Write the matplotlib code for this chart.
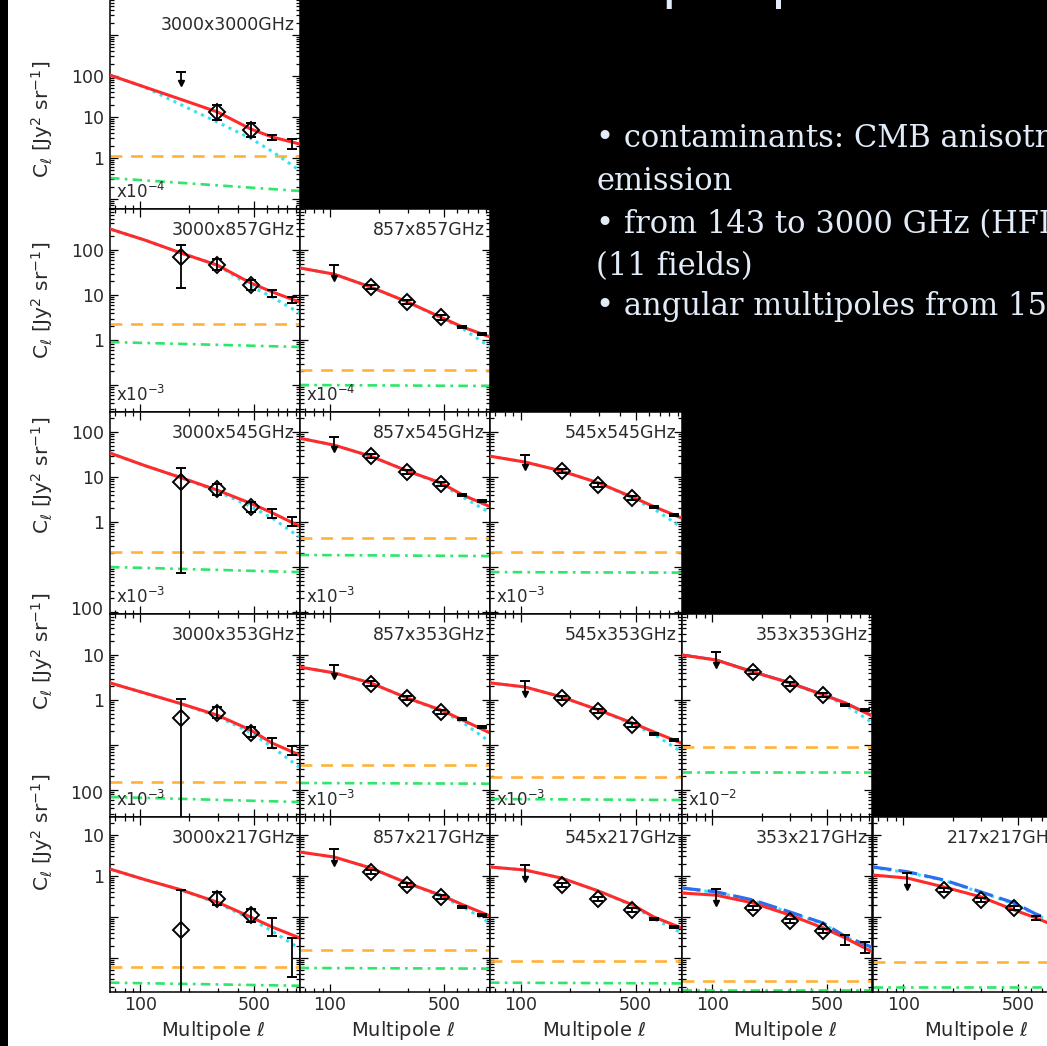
import matplotlib
matplotlib.use("Agg")
import matplotlib.pyplot as plt
import matplotlib.transforms as mtransforms
from matplotlib.patches import Rectangle
from matplotlib.ticker import FixedLocator, LogLocator, FuncFormatter, NullFormatter

# ---------------------------------------------------------------- data
# multipole bins of the measured cross-spectra
ELL_BINS = [106, 177, 297, 476, 645, 850]
# multipoles at which the model curves are tabulated
ELL_MODEL = [65, 106, 177, 297, 476, 645, 950]
ELL_CIRRUS = [65, 950]

PAIRS = ["3000x3000GHz", "3000x857GHz", "857x857GHz",
         "3000x545GHz", "857x545GHz", "545x545GHz",
         "3000x353GHz", "857x353GHz", "545x353GHz", "353x353GHz",
         "3000x217GHz", "857x217GHz", "545x217GHz", "353x217GHz", "217x217GHz"]
ROW = [0, 1, 1, 2, 2, 2, 3, 3, 3, 3, 4, 4, 4, 4, 4]
COL = [0, 0, 1, 0, 1, 2, 0, 1, 2, 3, 0, 1, 2, 3, 4]
SCALE_EXP = [-4, -3, -4, -3, -3, -3, -3, -3, -3, -2, None, None, None, None, None]

# total model (red)
TOTAL = [
    [105, 54, 27, 13.3, 5.1, 3.25, 2.2],
    [293, 167, 86, 46, 18.5, 11.7, 7.0],
    [40, 29, 15, 7.0, 3.2, 1.95, 1.17],
    [34, 18, 9.7, 5.1, 2.6, 1.6, 0.81],
    [73, 51, 29, 13.6, 7.4, 4.0, 2.2],
    [29, 21.5, 13.6, 7.4, 3.6, 2.2, 1.23],
    [2.4, 1.43, 0.83, 0.46, 0.215, 0.11, 0.06],
    [5.4, 4.0, 2.4, 1.1, 0.6, 0.36, 0.185],
    [2.4, 1.95, 1.17, 0.6, 0.31, 0.195, 0.11],
    [10, 7.7, 4.2, 2.4, 1.3, 0.86, 0.44],
    [1.48, 0.82, 0.46, 0.23, 0.1, 0.057, 0.031],
    [3.85, 2.9, 1.57, 0.67, 0.34, 0.2, 0.106],
    [1.66, 1.4, 0.89, 0.43, 0.2, 0.1, 0.054],
    [0.385, 0.34, 0.22, 0.112, 0.054, 0.031, 0.014],
    [1.06, 0.89, 0.54, 0.31, 0.148, 0.095, 0.05],
]
# clustered CIB term (cyan dotted)
CLUSTER = [
    [105, 54, 20, 7.5, 3.0, 1.45, 0.5],
    [293, 167, 86, 46, 15.8, 9.0, 4.0],
    [40, 29, 15, 7.0, 3.1, 1.8, 0.7],
    [34, 18, 9.7, 4.8, 2.2, 1.23, 0.46],
    [73, 51, 29, 13.6, 7.0, 3.6, 1.6],
    [29, 21.5, 13.6, 7.4, 3.4, 1.95, 0.77],
    [2.4, 1.43, 0.83, 0.43, 0.19, 0.09, 0.032],
    [5.4, 4.0, 2.4, 1.1, 0.57, 0.32, 0.117],
    [2.4, 1.95, 1.17, 0.6, 0.29, 0.175, 0.07],
    [10, 7.7, 4.2, 2.4, 1.25, 0.8, 0.31],
    [1.48, 0.82, 0.46, 0.22, 0.09, 0.045, 0.017],
    [3.85, 2.9, 1.57, 0.67, 0.32, 0.18, 0.071],
    [1.66, 1.4, 0.89, 0.43, 0.19, 0.09, 0.041],
    [0.5, 0.4, 0.25, 0.13, 0.068, 0.033, 0.017],
    [1.6, 1.22, 0.78, 0.4, 0.21, 0.113, 0.06],
]
# alternative model (blue), only for the lowest frequencies
ALT_MODEL = [None] * 9 + [
    [10.4, 8.0, 4.4, 2.5, 1.36, 0.9, 0.46],
    None, None, None,
    [0.51, 0.41, 0.26, 0.133, 0.071, 0.034, 0.018],
    [1.66, 1.27, 0.8, 0.41, 0.22, 0.118, 0.065],
]
ALT_SOLID = [False] * 9 + [True, False, False, False, False, False]
# shot-noise level (orange dashed)
SHOT = [1.1, 2.27, 0.215, 0.215, 0.44, 0.215, 0.015, 0.036, 0.0195, 0.09,
        0.006, 0.0157, 0.0085, 0.0027, 0.008]
# residual cirrus (green dash-dot), values at ELL_CIRRUS
CIRRUS = [
    [0.325, 0.157], [0.9, 0.7], [0.1, 0.095], [0.1, 0.077], [0.185, 0.175],
    [0.077, 0.075], [0.007, 0.0054], [0.0143, 0.0138], [0.0063, 0.006],
    [0.025, 0.025], [0.0025, 0.0021], [0.0057, 0.0055], [0.0025, 0.0024],
    [0.0017, 0.0017], [0.002, 0.002],
]
# measured points at ELL_BINS (None: no measurement / upper limit)
PT_VAL = [
    [None, None, 13.2, 4.8, 3.1, 2.2],
    [None, 70, 46, 16.7, 11, 7.7],
    [None, 15, 7.0, 3.2, 1.95, 1.36],
    [None, 7.7, 5.4, 2.2, 1.55, 1.0],
    [None, 29, 12.9, 7.0, 4.0, 2.9],
    [None, 13.6, 6.6, 3.4, 2.15, 1.43],
    [None, 0.4, 0.51, 0.185, 0.11, 0.075],
    [None, 2.3, 1.1, 0.54, 0.38, 0.25],
    [None, 1.1, 0.57, 0.28, 0.175, 0.13],
    [None, 4.2, 2.27, 1.3, 0.77, 0.6],
    [None, 0.048, 0.275, 0.112, 0.057, 0.0105],
    [None, 1.25, 0.6, 0.31, 0.176, 0.112],
    [None, 0.6, 0.275, 0.148, 0.09, 0.057],
    [None, 0.166, 0.08, 0.045, 0.027, 0.018],
    [None, 0.46, 0.26, 0.166, 0.095, 0.065],
]
PT_LO = [
    [None, None, 8.5, 3.25, 2.75, 1.66],
    [None, 14.3, 36, 13, 9.0, 6.6],
    [None, 13.5, 6.3, 2.85, 1.85, 1.3],
    [None, 0.074, 4.0, 1.67, 1.23, 0.81],
    [None, 26, 11.6, 6.3, 3.8, 2.75],
    [None, 12.3, 5.9, 3.05, 2.05, 1.36],
    [None, 0.001, 0.4, 0.15, 0.086, 0.06],
    [None, 2.05, 0.98, 0.48, 0.36, 0.235],
    [None, 1.0, 0.51, 0.25, 0.165, 0.123],
    [None, 3.8, 2.05, 1.17, 0.73, 0.57],
    [None, 0.0005, 0.196, 0.075, 0.034, 0.0034],
    [None, 1.1, 0.53, 0.28, 0.165, 0.105],
    [None, 0.53, 0.245, 0.13, 0.085, 0.054],
    [None, 0.148, 0.071, 0.04, 0.0205, 0.013],
    [None, 0.41, 0.23, 0.148, 0.085, 0.058],
]
PT_HI = [
    [None, None, 19.6, 7.1, 3.6, 2.9],
    [None, 130, 63, 21, 13, 9.0],
    [None, 16.7, 7.8, 3.6, 2.05, 1.43],
    [None, 15.8, 7.0, 2.8, 1.95, 1.3],
    [None, 32, 14.3, 7.8, 4.2, 3.05],
    [None, 15.1, 7.3, 3.8, 2.25, 1.5],
    [None, 1.05, 0.7, 0.25, 0.143, 0.095],
    [None, 2.6, 1.23, 0.6, 0.4, 0.265],
    [None, 1.22, 0.63, 0.31, 0.185, 0.137],
    [None, 4.7, 2.5, 1.45, 0.81, 0.63],
    [None, 0.46, 0.41, 0.157, 0.095, 0.031],
    [None, 1.4, 0.68, 0.35, 0.188, 0.12],
    [None, 0.68, 0.31, 0.167, 0.095, 0.06],
    [None, 0.187, 0.09, 0.05, 0.036, 0.025],
    [None, 0.52, 0.29, 0.187, 0.106, 0.073],
]
# upper limits: (bin index, top, bottom) or None
UPPER = [(1, 125, 67), None, (0, 46, 24), None, (0, 77, 42), (0, 31, 16.7),
         None, (0, 6.0, 3.4), (0, 2.65, 1.36), (0, 11.7, 6.0),
         None, (0, 4.55, 2.1), (0, 1.85, 0.85), (0, 0.48, 0.22), (0, 1.18, 0.54)]
# bins drawn with a diamond symbol (the two highest bins show only the bar)
WITH_SYMBOL = [True, True, True, True, False, False]

X_TICKS = [100, 500]
X_MINOR = [70, 80, 90, 200, 300, 400, 600, 700, 800, 900]

# ---------------------------------------------------------------- layout
W, H, DPI = 1047, 1046, 100
COL_EDGES = [110, 299.5, 490, 681.5, 872.5, 1063.5]
ROW_EDGES = [-15, 209, 412, 614, 817, 992]
XLIM = (65, 950)
YLIM = [(0.057, 10 ** 4.22), (0.0251, 815), (0.00903, 278),
        (0.00251, 81.5), (0.00148, 27.5)]
YLABEL_CENTER = [119, 300, 475, 651, 832]

RED = "#ff2b2b"
CYAN = "#35e2f2"
ORANGE = "#ffb236"
GREEN = "#2ee66a"
BLUE_C = "#2b6ff0"
INK = "#2a2a2a"

plt.rcParams["font.family"] = ["DejaVu Sans"]
plt.rcParams["mathtext.fontset"] = "dejavusans"

fig = plt.figure(figsize=(W / DPI, H / DPI), dpi=DPI, facecolor="black")


def fx(px):
    return px / W


def fy(py):
    return 1 - py / H


# white backing behind the axis labels
fig.add_artist(Rectangle((fx(8), fy(H)), fx(110 - 8), 1, transform=fig.transFigure,
                         facecolor="white", edgecolor="none", zorder=-10))
fig.add_artist(Rectangle((fx(8), 0), 1, fy(992), transform=fig.transFigure,
                         facecolor="white", edgecolor="none", zorder=-10))

ylab_fmt = FuncFormatter(lambda v, p: f"{v:g}" if 0.99 <= v <= 101 else "")
xlab_fmt = FuncFormatter(lambda v, p: f"{v:g}")

for i, name in enumerate(PAIRS):
    r, c = ROW[i], COL[i]
    x0, x1 = COL_EDGES[c], COL_EDGES[c + 1]
    y0, y1 = ROW_EDGES[r], ROW_EDGES[r + 1]
    ax = fig.add_axes([fx(x0), fy(y1), fx(x1 - x0), (y1 - y0) / H])
    ax.set_facecolor("white")
    ax.set_xscale("log")
    ax.set_yscale("log")
    ax.set_xlim(*XLIM)
    ax.set_ylim(*YLIM[r])

    # model components
    ax.plot(ELL_CIRRUS, [SHOT[i], SHOT[i]], color=ORANGE, lw=1.9,
            linestyle=(0, (4.5, 3.3)), zorder=2)
    ax.plot(ELL_CIRRUS, CIRRUS[i], color=GREEN, lw=1.9,
            linestyle=(0, (3.6, 2.0, 1.0, 2.0)), zorder=2)
    ax.plot(ELL_MODEL, CLUSTER[i], color=CYAN, lw=2.2,
            linestyle=(0, (1, 1.5)), zorder=3)
    if ALT_MODEL[i] is not None:
        if ALT_SOLID[i]:
            ax.plot(ELL_MODEL, ALT_MODEL[i], color=BLUE_C, lw=1.2, zorder=3)
        else:
            ax.plot(ELL_MODEL, ALT_MODEL[i], color=BLUE_C, lw=2.3,
                    linestyle=(0, (6, 2.2)), zorder=3)
    ax.plot(ELL_MODEL, TOTAL[i], color=RED, lw=2.2, zorder=4,
            solid_capstyle="butt")

    # measurements
    for k, ell in enumerate(ELL_BINS):
        v = PT_VAL[i][k]
        if v is None:
            continue
        lo, hi = PT_LO[i][k], PT_HI[i][k]
        ax.errorbar([ell], [v], yerr=[[v - lo], [hi - v]],
                    fmt="D" if WITH_SYMBOL[k] else "none",
                    ms=8.5, mfc="none", mec="black", mew=1.4,
                    ecolor="black", elinewidth=1.3, capsize=3.6, capthick=1.3,
                    zorder=5)
    if UPPER[i] is not None:
        k, top, bot = UPPER[i]
        ell = ELL_BINS[k]
        ax.plot([ell, ell], [top, bot], color="black", lw=1.3, zorder=5)
        ax.plot([ell], [top], marker="_", ms=7.5, mew=1.4, color="black", zorder=5)
        ax.plot([ell], [bot], marker="v", ms=4.5, color="black", zorder=5)

    # axes, IDL-style ticks on all sides
    for sp in ax.spines.values():
        sp.set_linewidth(1.1)
        sp.set_color("black")
    ax.xaxis.set_major_locator(FixedLocator(X_TICKS))
    ax.xaxis.set_minor_locator(FixedLocator(X_MINOR))
    ax.xaxis.set_major_formatter(xlab_fmt)
    ax.xaxis.set_minor_formatter(NullFormatter())
    ax.yaxis.set_major_locator(LogLocator(base=10, numticks=20))
    ax.yaxis.set_minor_locator(LogLocator(base=10, subs=range(2, 10), numticks=20))
    ax.yaxis.set_major_formatter(ylab_fmt)
    ax.yaxis.set_minor_formatter(NullFormatter())
    ax.tick_params(which="both", direction="in", top=True, right=True,
                   width=0.9, color="black", labelcolor=INK, labelsize=12.5)
    ax.tick_params(which="major", length=6)
    ax.tick_params(which="minor", length=3)
    ax.tick_params(axis="y", pad=4)
    ax.tick_params(axis="x", pad=3)
    ax.tick_params(labelleft=(c == 0), labelbottom=(r == 4))

    if c == 0 and YLIM[r][1] < 100:
        trans = mtransforms.blended_transform_factory(ax.transAxes, ax.transData)
        ax.text(-0.035, 100, "100", transform=trans, ha="right", va="center",
                fontsize=12.5, color=INK, clip_on=False)

    # pair label and scale factor
    ty = 25 if r == 0 else y0 + 21
    fig.text(fx(x1 - 5), fy(ty), name, ha="right", va="center",
             fontsize=12.5, color=INK)
    if SCALE_EXP[i] is not None:
        fig.text(fx(x0 + 6), fy(y1 - 17), "x10$^{%d}$" % SCALE_EXP[i],
                 ha="left", va="center", fontsize=12, color=INK)

# axis titles
for r in range(5):
    fig.text(fx(42), fy(YLABEL_CENTER[r]), r"C$_\ell$ [Jy$^2$ sr$^{-1}$]",
             rotation=90, ha="center", va="center", fontsize=14.5, color=INK)
for c in range(5):
    xc = 0.5 * (COL_EDGES[c] + COL_EDGES[c + 1]) + 8
    fig.text(fx(xc), fy(1030), r"Multipole $\ell$", ha="center", va="center",
             fontsize=14, color=INK)

# slide text; the heading sits mostly above the visible frame
TEXT_COLOR = "#e2ecf8"
fig.text(fx(361), fy(-1), "CIB anisotropic spectra", ha="left", va="baseline",
         fontsize=40, color=TEXT_COLOR, family="Lato")
BULLETS = [
    (596, 147, "\u2022 contaminants: CMB anisotropies, Galactic dust"),
    (596, 190, "emission"),
    (596, 233, "\u2022 from 143 to 3000 GHz (HFI and IRIS)"),
    (596, 275, "(11 fields)"),
    (596, 315, "\u2022 angular multipoles from 150 to 1000"),
]
for bx, by, txt in BULLETS:
    fig.text(fx(bx), fy(by), txt, ha="left", va="baseline", fontsize=22,
             color=TEXT_COLOR, family="DejaVu Serif")

fig.savefig("out.png", dpi=DPI, facecolor="black")
